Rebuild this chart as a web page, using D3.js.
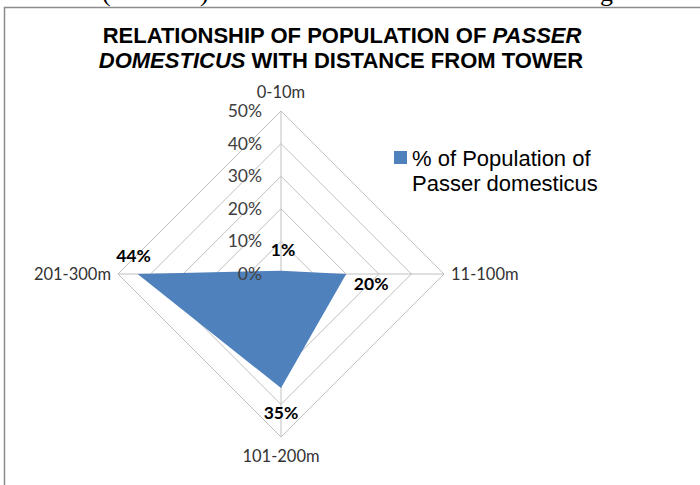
<!DOCTYPE html>
<html>
<head>
<meta charset="utf-8">
<script src="https://cdn.jsdelivr.net/npm/d3@7"></script>
<style>
  body { margin: 0; background: #fff; }
  svg { display: block; }
</style>
</head>
<body>
<svg id="chart" width="700" height="485"></svg>
<script>
// data
const categories = ['0-10m', '11-100m', '101-200m', '201-300m'];
const values = [1, 20, 35, 44];
const valueLabels = ['1%', '20%', '35%', '44%'];
const ticks = [0, 10, 20, 30, 40, 50];
const seriesName = ['% of Population of', 'Passer domesticus'];

const cx = 281, cy = 274;
const radius = 163;

const svg = d3.select('#chart');

// frame of the chart area (cut off on the right and bottom)
svg.append('rect')
  .attr('x', 4.5).attr('y', 7.5)
  .attr('width', 720).attr('height', 500)
  .attr('fill', 'none')
  .attr('stroke', '#8c8c8c')
  .attr('stroke-width', 1.5);

// bits of the page text above the chart
svg.append('g')
  .style('font-family', 'Liberation Serif, serif')
  .style('font-size', '26px')
  .selectAll('text')
  .data([{ t: '(', x: 102 }, { t: ')', x: 200 }, { t: 'g', x: 600 }])
  .join('text')
  .attr('x', d => d.x).attr('y', 1)
  .text(d => d.t);

// title
const title = svg.append('text')
  .attr('text-anchor', 'middle')
  .style('font-family', 'Liberation Sans, Arial, sans-serif')
  .style('font-size', '22px')
  .style('font-weight', 'bold')
  .attr('fill', '#000');
const t1 = title.append('tspan').attr('x', 342).attr('y', 43);
t1.append('tspan').text('RELATIONSHIP OF POPULATION OF ');
t1.append('tspan').style('font-style', 'italic').text('PASSER');
const t2 = title.append('tspan').attr('x', 341).attr('y', 68);
t2.append('tspan').style('font-style', 'italic').text('DOMESTICUS');
t2.append('tspan').text(' WITH DISTANCE FROM TOWER');

// scales
const r = d3.scaleLinear().domain([0, 50]).range([0, radius]);
const angle = d3.scalePoint().domain(categories).range([0, 2 * Math.PI * (categories.length - 1) / categories.length]);

const px = (c, v) => cx + r(v) * Math.sin(angle(c));
const py = (c, v) => cy - r(v) * Math.cos(angle(c));

const g = svg.append('g');
const line = d3.line().x(d => px(d.c, d.v)).y(d => py(d.c, d.v)).curve(d3.curveLinearClosed);

// grid rings
ticks.slice(1).forEach(t => {
  g.append('path')
    .attr('d', line(categories.map(c => ({ c, v: t }))))
    .attr('fill', 'none')
    .attr('stroke', '#c0c0c0')
    .attr('stroke-width', 1);
});

// spokes
g.selectAll('.spoke')
  .data(categories)
  .join('line')
  .attr('x1', cx).attr('y1', cy)
  .attr('x2', c => px(c, 50)).attr('y2', c => py(c, 50))
  .attr('stroke', '#c0c0c0')
  .attr('stroke-width', 1);

// series polygon
const pts = categories.map((c, i) => ({ c, v: values[i] }));
g.append('path')
  .attr('d', line(pts))
  .attr('fill', '#4f81bd');

// tick labels along the top spoke
g.selectAll('.tick')
  .data(ticks)
  .join('text')
  .attr('x', cx - 19)
  .attr('y', t => py(categories[0], t) + 6)
  .attr('text-anchor', 'end')
  .style('font-family', 'Lato, Open Sans, sans-serif')
  .style('font-size', '17.5px')
  .attr('fill', '#404040')
  .text(t => t + '%');

// category labels
const catPos = [
  { dx: 0, dy: -13, anchor: 'middle' },
  { dx: 7, dy: 6, anchor: 'start' },
  { dx: 0, dy: 25, anchor: 'middle' },
  { dx: -7, dy: 6, anchor: 'end' }
];
g.selectAll('.cat')
  .data(categories)
  .join('text')
  .attr('x', (c, i) => px(c, 50) + catPos[i].dx)
  .attr('y', (c, i) => py(c, 50) + catPos[i].dy)
  .attr('text-anchor', (c, i) => catPos[i].anchor)
  .style('font-family', 'Lato, Open Sans, sans-serif')
  .style('font-size', '16.5px')
  .attr('fill', '#333')
  .text(c => c);

// value labels
const valPos = [
  { dx: 2, dy: -15 },
  { dx: 25, dy: 16 },
  { dx: 0, dy: 31 },
  { dx: -4, dy: -12 }
];
g.selectAll('.val')
  .data(pts)
  .join('text')
  .attr('x', (d, i) => px(d.c, d.v) + valPos[i].dx)
  .attr('y', (d, i) => py(d.c, d.v) + valPos[i].dy)
  .attr('text-anchor', 'middle')
  .style('font-family', 'Lato, Open Sans, sans-serif')
  .style('font-size', '17.5px')
  .style('font-weight', 'bold')
  .attr('fill', '#000')
  .text((d, i) => valueLabels[i]);

// legend
const lg = svg.append('g');
lg.append('rect')
  .attr('x', 394).attr('y', 151)
  .attr('width', 13).attr('height', 13)
  .attr('fill', '#4f81bd');
lg.selectAll('text')
  .data(seriesName)
  .join('text')
  .attr('x', 412)
  .attr('y', (d, i) => 166 + i * 25)
  .style('font-family', 'Liberation Sans, Arial, sans-serif')
  .style('font-size', '22px')
  .attr('fill', '#000')
  .text(d => d);
</script>
</body>
</html>
